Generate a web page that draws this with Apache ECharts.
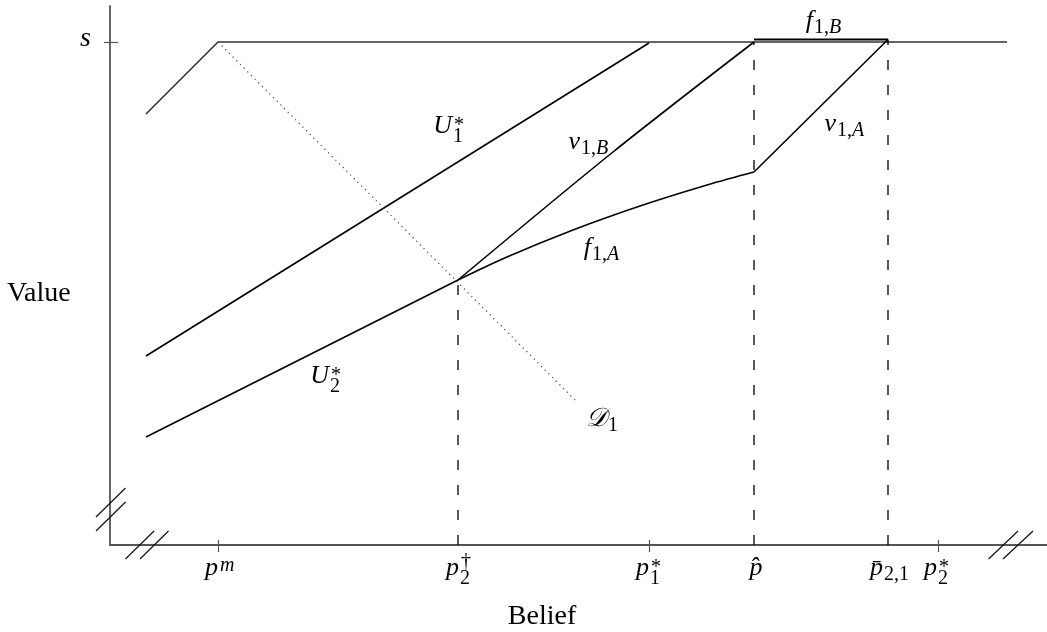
<!DOCTYPE html>
<html><head><meta charset="utf-8">
<script src="https://cdn.jsdelivr.net/npm/echarts@6/dist/echarts.min.js"></script>
<style>html,body{margin:0;padding:0;background:#fff}#c{width:1047px;height:632px}</style>
</head><body><div id="c"></div>
<script>
// ---- data (diagram units) ----
const X_MAX = 937, Y_MAX = 539;
const sLevel = 503;
const pm = 108, p2dag = 348, p1star = 539, phat = 644, pbar = 778, p2star = 828;
const xTickValues = [pm, p1star, p2star];
const yTickValues = [sLevel];

const topCurve = [[36, 431], [pm, sLevel], [897, sLevel]];
const u1Line = [[36, 189], [p1star, 502]];
const u2Line = [[36, 108], [p2dag, 265]];
const f1ALine = [[p2dag, 265], [397, 288], [463, 315], [530, 339], [597, 360], [phat, 373]];
const v1BLine = [[p2dag, 265], [503, 393], [phat, sLevel]];
const v1ALine = [[phat, 373], [pbar, 505.5]];
const f1BLine = [[phat, 505.5], [pbar, 505.5]];
const d1Line = [[pm, sLevel], [467, 143]];
const dashLines = [
  [[p2dag, 0], [p2dag, 265]],
  [[phat, 0], [phat, sLevel]],
  [[pbar, 0], [pbar, 505.5]]
];
const breakMarks = [
  [[-14, 28], [15.5, 57]], [[-14, 14], [15.5, 43]],
  [[15.5, -14], [44, 14]], [[30, -14], [58.5, 14]],
  [[878.6, -14], [908, 14]], [[893, -14], [923, 14]]
];

const tickLabels = [
  {v: pm, base: 'p', sup: 'm'},
  {v: p2dag, base: 'p', sup: '†', sub: '2'},
  {v: p1star, base: 'p', sup: '*', sub: '1'},
  {v: phat, base: 'p\u0302', center: true},
  {v: pbar, base: 'p\u0304', sub: '2,1'},
  {v: p2star, base: 'p', sup: '*', sub: '2'}
];
const curveLabels = [
  {x: 342, y: 419, base: 'U', sup: '*', sub: '1'},
  {x: 219, y: 169, base: 'U', sup: '*', sub: '2'},
  {x: 470, y: 403, base: 'v', sub: '1,B'},
  {x: 481, y: 297, base: 'f', sub: '1,A'},
  {x: 703, y: 524, base: 'f', sub: '1,B'},
  {x: 726, y: 421, base: 'v', sub: '1,A'},
  {x: 497, y: 126, base: '\u{1D49F}', sub: '1'}
];
const yTickText = 's';
const xName = 'Belief', yName = 'Value';

// ---- chart ----
const FF = '"Liberation Serif", "DejaVu Serif", serif';
const AX = '#555';
const chart = echarts.init(document.getElementById('c'));

function ln(data, style, extra) {
  return Object.assign({type: 'line', data, symbol: 'none', silent: true, clip: false,
    animation: false, lineStyle: Object.assign({color: '#000', width: 1.6}, style)}, extra || {});
}
const series = [
  ln(topCurve, {color: '#333', width: 1.6}),
  ln(u1Line, {}),
  ln(u2Line, {}),
  ln(f1ALine, {}, {smooth: 0.35}),
  ln(v1BLine, {}, {smooth: 0.3}),
  ln(v1ALine, {}),
  ln(f1BLine, {width: 1.8}),
  ln(d1Line, {color: '#444', width: 1.2, type: [1.2, 4]}),
];
dashLines.forEach(d => series.push(ln(d, {width: 1.3, type: [10, 15]})));

const baseAxis = {
  type: 'value', min: 0, splitLine: {show: false}, axisLabel: {show: false}
};
const option = {
  backgroundColor: '#fff',
  animation: false,
  grid: {left: 110, right: 0, top: 6, bottom: 87, containLabel: false},
  xAxis: [
    Object.assign({}, baseAxis, {max: X_MAX, position: 'bottom',
      axisLine: {show: true, lineStyle: {color: AX, width: 1.8}},
      axisTick: {show: true, length: 7, customValues: xTickValues, lineStyle: {color: AX, width: 1.2}}}),
    Object.assign({}, baseAxis, {max: X_MAX, position: 'bottom',
      axisLine: {show: false},
      axisTick: {show: true, inside: true, length: 5, customValues: xTickValues, lineStyle: {color: AX, width: 1.2}}})
  ],
  yAxis: [
    Object.assign({}, baseAxis, {max: Y_MAX, position: 'left',
      axisLine: {show: true, lineStyle: {color: AX, width: 1.8}},
      axisTick: {show: true, length: 6, customValues: yTickValues, lineStyle: {color: AX, width: 1.2}}}),
    Object.assign({}, baseAxis, {max: Y_MAX, position: 'left',
      axisLine: {show: false},
      axisTick: {show: true, inside: true, length: 8, customValues: yTickValues, lineStyle: {color: AX, width: 1.2}}})
  ],
  series: series.map(s => Object.assign(s, {xAxisIndex: 0, yAxisIndex: 0}))
};
chart.setOption(option);

// ---- text and break marks as graphic elements placed through the axes ----
function font(size, italic) { return (italic ? 'italic ' : '') + size + 'px ' + FF; }
function txt(x, y, text, size, italic, align) {
  return {type: 'text', x, y, silent: true, z: 100,
    style: {text, font: font(size, italic), fill: '#000', align: align, verticalAlign: 'middle',
      textAlign: align, textVerticalAlign: 'middle'}};
}
function richTxt(x, y, s, size) {
  let out = '';
  for (const ch of s) out += (/[A-Za-z]/.test(ch) ? '{i|' : '{r|') + ch + '}';
  return {type: 'text', x, y, silent: true, z: 100,
    style: {text: out, fill: '#000', align: 'left', verticalAlign: 'middle',
      textAlign: 'left', textVerticalAlign: 'middle',
      rich: {i: {font: font(size, true), fill: '#000'}, r: {font: font(size, false), fill: '#000'}}}};
}
function supDy(ch) { return ch === '†' ? -6 : (ch === '*' ? 0 : -2); }
function mathLabel(px, py, spec) {
  const els = [];
  const BS = 26, SS = 20;
  if (spec.center) { els.push(txt(px, py, spec.base, BS, true, 'center')); return els; }
  els.push(txt(px, py, spec.base, BS, true, 'right'));
  if (spec.sup) els.push(txt(px + 2, py + supDy(spec.sup), spec.sup, SS, /[a-z]/.test(spec.sup), 'left'));
  if (spec.sub) els.push(richTxt(px + 1, py + (spec.sup ? 10.5 : 7), spec.sub, SS));
  return els;
}
function px(pt) { return chart.convertToPixel({xAxisIndex: 0, yAxisIndex: 0}, pt); }

const els = [];
breakMarks.forEach(seg => {
  const a = px(seg[0]), b = px(seg[1]);
  els.push({type: 'line', silent: true, z: 50,
    shape: {x1: a[0], y1: a[1], x2: b[0], y2: b[1]},
    style: {stroke: '#111', lineWidth: 1.2}});
});
const axisY = px([0, 0])[1];
const axisX = px([0, 0])[0];
const tickDx = {};
tickDx[pm] = 0; tickDx[p2dag] = 1; tickDx[p1star] = 0; tickDx[phat] = 2; tickDx[pbar] = -5; tickDx[p2star] = -1;
tickLabels.forEach(t => {
  const p = px([t.v, 0]);
  els.push(...mathLabel(p[0] + tickDx[t.v], axisY + 23, t));
});
curveLabels.forEach(c => {
  const p = px([c.x, c.y]);
  els.push(...mathLabel(p[0], p[1], c));
});
const sPix = px([0, sLevel]);
els.push(txt(axisX - 19, sPix[1] - 3, yTickText, 28, true, 'right'));
els.push(txt(7, px([0, 251])[1], yName, 28, false, 'left'));
els.push(txt(px([432, 0])[0], axisY + 72, xName, 28, false, 'center'));
chart.setOption({graphic: {elements: els}});
</script>
</body></html>
